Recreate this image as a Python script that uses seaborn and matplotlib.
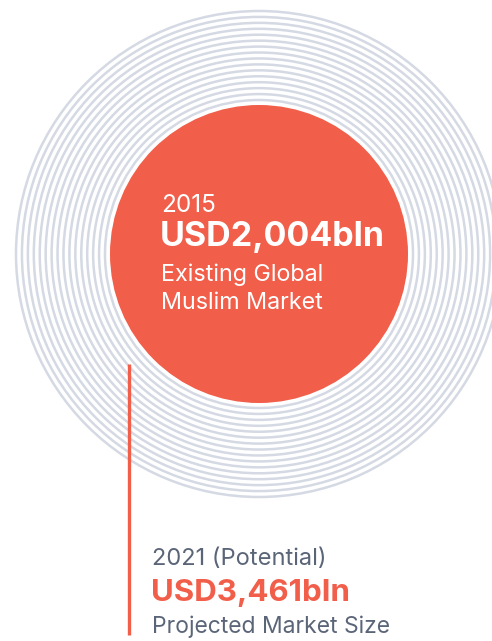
import numpy as np
import seaborn as sns
import matplotlib.pyplot as plt
from matplotlib.patches import Circle

# data
years = ['2015', '2021 (Potential)']
values = ['USD2,004bln', 'USD3,461bln']
captions = ['Existing Global\nMuslim Market', 'Projected Market Size']
n_rings = 16

red = '#f15e4a'
ring_col = '#d4d9e3'
grey = '#5b6578'

sns.set_theme(style='white')
plt.rcParams['font.family'] = ['Inter', 'DejaVu Sans']

fig = plt.figure(figsize=(4.92, 6.41), dpi=100)
ax = fig.add_axes([0, 0, 1, 1])
ax.set_xlim(0, 492)
ax.set_ylim(641, 0)
ax.set_aspect('equal')
ax.axis('off')

cx, cy = 259, 254
for r in np.linspace(154, 243, n_rings):
    ax.add_patch(Circle((cx, cy), r, fill=False, ec=ring_col, lw=1.8))
ax.add_patch(Circle((cx, cy), 149, fc=red, ec='none'))

# leader line
ax.plot([128.5, 128.5], [364, 635], color=red, linewidth=2.4, solid_capstyle='butt')

# text inside circle
lines = captions[0].split('\n')
ax.text(161, 212, years[0], color='white', fontsize=17.5, va='baseline')
ax.text(160, 246, values[0], color='white', fontsize=24.5, fontweight='bold', va='baseline')
ax.text(161, 281, lines[0], color='white', fontsize=16.8, va='baseline')
ax.text(161, 309, lines[1], color='white', fontsize=16.8, va='baseline')

# text below
ax.text(152, 565, years[1], color=grey, fontsize=17, va='baseline')
ax.text(151, 601, values[1], color=red, fontsize=22.5, fontweight='bold', va='baseline')
ax.text(152, 633, captions[1], color=grey, fontsize=16.5, va='baseline')

fig.savefig('out.png', dpi=100)
